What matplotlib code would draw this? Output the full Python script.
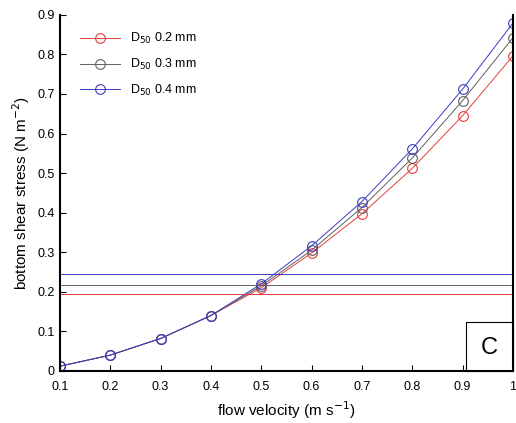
import numpy as np
import matplotlib.pyplot as plt
from matplotlib.patches import Rectangle
from matplotlib.ticker import FormatStrFormatter

plt.rcParams['font.family'] = ['Liberation Sans', 'DejaVu Sans']

# Data
velocity = [0.1, 0.2, 0.3, 0.4, 0.5, 0.6, 0.7, 0.8, 0.9, 1.0]
stress_02 = [0.012, 0.040, 0.082, 0.140, 0.210, 0.298, 0.397, 0.512, 0.645, 0.796]
stress_03 = [0.012, 0.040, 0.082, 0.140, 0.215, 0.305, 0.413, 0.538, 0.683, 0.842]
stress_04 = [0.012, 0.040, 0.082, 0.140, 0.220, 0.316, 0.428, 0.561, 0.712, 0.879]
threshold = [0.195, 0.217, 0.245]
labels = ['D$_{50}$ 0.2 mm', 'D$_{50}$ 0.3 mm', 'D$_{50}$ 0.4 mm']
colors = ['#e2403a', '#606060', '#3b3bc4']

fig = plt.figure(figsize=(5.16, 4.23), dpi=100)
ax = fig.add_axes([0.116, 0.123, 0.878, 0.842])

for s, lab, c in zip([stress_02, stress_03, stress_04], labels, colors):
    ax.plot(velocity, s, color=c, lw=0.7, marker='o', ms=7, mfc='none',
            mec=c, mew=0.8, label=lab)
for t, c in zip(threshold, colors):
    ax.axhline(t, color=c, lw=0.7)

ax.set_xlim(0.1, 1.0)
ax.set_ylim(0, 0.9)
ax.set_xticks(np.arange(0.1, 1.01, 0.1))
ax.set_yticks(np.arange(0, 0.91, 0.1))
ax.xaxis.set_major_formatter(FormatStrFormatter('%g'))
ax.yaxis.set_major_formatter(FormatStrFormatter('%g'))
ax.tick_params(direction='in', labelsize=9, length=4)
ax.tick_params(axis='x', pad=7)
ax.spines['top'].set_visible(False)
for sp in ['left', 'bottom', 'right']:
    ax.spines[sp].set_linewidth(1.5)

ax.set_xlabel('flow velocity (m s$^{-1}$)', fontsize=11, labelpad=5)
ax.set_ylabel('bottom shear stress (N m$^{-2}$)', fontsize=11)

leg = ax.legend(loc='upper left', bbox_to_anchor=(0.02, 0.985), frameon=False,
                fontsize=9, handlelength=3.2, labelspacing=0.85)

# panel letter box
ax.add_patch(Rectangle((0.896, 0), 0.104, 0.138, transform=ax.transAxes,
                       fill=False, lw=0.8, color='black', clip_on=False))
ax.text(0.948, 0.065, 'C', transform=ax.transAxes, ha='center', va='center',
        fontsize=17)

fig.savefig('out.png', dpi=100)
